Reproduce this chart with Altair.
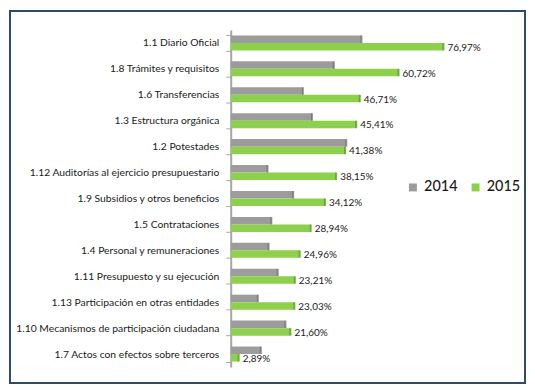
import altair as alt
import pandas as pd

categories = [
    "1.1 Diario Oficial",
    "1.8 Trámites y requisitos",
    "1.6 Transferencias",
    "1.3 Estructura orgánica",
    "1.2 Potestades",
    "1.12 Auditorías al ejercicio presupuestario",
    "1.9 Subsidios y otros beneficios",
    "1.5 Contrataciones",
    "1.4 Personal y remuneraciones",
    "1.11 Presupuesto y su ejecución",
    "1.13 Participación en otras entidades",
    "1.10 Mecanismos de participación ciudadana",
    "1.7 Actos con efectos sobre terceros",
]
values_2014 = [47.3, 37.3, 26.1, 29.4, 41.8, 13.3, 22.6, 14.7, 13.7, 17.0, 9.8, 19.8, 10.9]
values_2015 = [76.97, 60.72, 46.71, 45.41, 41.38, 38.15, 34.12, 28.94, 24.96, 23.21, 23.03, 21.60, 2.89]
years = ["2014", "2015"]
colors = ["#9C9C9C", "#8DD04C"]
edge_colors = ["#6A6A6A", "#4F8F25"]

rows = []
for c, a, b in zip(categories, values_2014, values_2015):
    rows.append({"cat": c, "year": "2014", "v": a, "label": ""})
    rows.append({"cat": c, "year": "2015", "v": b,
                 "label": f"{b:.2f}".replace(".", ",") + "%"})
df = pd.DataFrame(rows)

FONT = "Lato"
W, H = 518, 374
P = 2  # padding

AX = 222
y_enc = alt.Y("cat:N", sort=categories,
              scale=alt.Scale(range=[19, 358], paddingInner=0.42, paddingOuter=0.21),
              axis=alt.Axis(title=None, orient="left", offset=-AX,
                            domainColor="#A6A6A6", domainWidth=2,
                            tickColor="#A6A6A6", tickSize=5, tickBand="extent",
                            labelFont=FONT, labelFontSize=10.4, labelColor="#1A1A1A",
                            labelPadding=7, labelLimit=260))
x_enc = alt.X("v:Q", scale=alt.Scale(domain=[0, 100], range=[AX, AX + 278]), axis=None)
yoff = alt.YOffset("year:N", scale=alt.Scale(domain=years, paddingInner=0.0))

base = alt.Chart(df)

bars = base.mark_bar(strokeWidth=0).encode(
    y=y_enc, x=x_enc, yOffset=yoff,
    color=alt.Color("year:N", scale=alt.Scale(domain=years, range=colors),
                    legend=alt.Legend(title=None, orient="none", legendX=398, legendY=170,
                                      direction="horizontal", symbolType="square",
                                      symbolSize=64, symbolStrokeWidth=0,
                                      labelFont=FONT, labelFontSize=14.5, labelFontWeight=500,
                                      labelColor="#1A1A1A", columnPadding=10,
                                      labelOffset=4)),
)

edges = base.mark_tick(thickness=2, size=7.5).encode(
    y=y_enc, x=x_enc, yOffset=yoff,
    color=alt.Color("year:N", scale=alt.Scale(domain=years, range=edge_colors), legend=None),
).transform_filter(alt.datum.v > 0)

labels = base.mark_text(align="left", baseline="middle", dx=4, dy=1,
                        font=FONT, fontSize=10, color="#1A1A1A").encode(
    y=y_enc, x=x_enc, yOffset=yoff, text="label:N",
).transform_filter(alt.datum.year == "2015")

chart = alt.layer(bars, edges, labels).resolve_scale(color="independent").properties(
    width=W, height=H, padding=P, background="white",
    autosize=alt.AutoSizeParams(type="none"),
).configure_view(stroke="#2E4A66", strokeWidth=2)

chart.save("out.html", embed_options={"renderer": "svg", "actions": False})
